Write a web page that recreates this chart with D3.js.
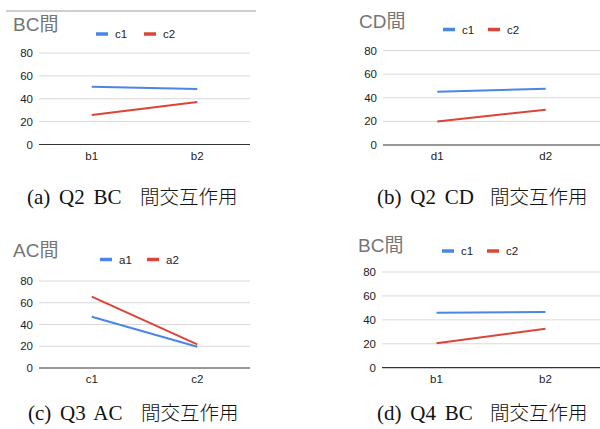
<!DOCTYPE html>
<html>
<head>
<meta charset="utf-8">
<script src="https://cdn.jsdelivr.net/npm/d3@7"></script>
<style>
  body { margin: 0; background: #fff; }
  svg { display: block; }
  .tick-label, .cat-label, .legend-text { font-family: "Liberation Sans", Arial, sans-serif; font-size: 11.5px; fill: #222; }
  .title { font-family: "Liberation Sans", "Noto Sans CJK JP", sans-serif; font-size: 19px; fill: #757575; }
  .caption { font-family: "Liberation Serif", serif; font-size: 21px; fill: #111; word-spacing: 3.5px; }
  .caption-cjk { font-family: "Noto Sans CJK JP", sans-serif; font-size: 19.5px; font-weight: 300; fill: #111; }
</style>
</head>
<body>
<div id="chart"></div>
<script>
// data
var yTicks = [0, 20, 40, 60, 80];

var titlesList = ["BC間", "CD間", "AC間", "BC間"];
var captionsList = ["(a) Q2 BC 間交互作用", "(b) Q2 CD 間交互作用", "(c) Q3 AC 間交互作用", "(d) Q4 BC 間交互作用"];

var catsA = ["b1", "b2"];
var seriesNamesA = ["c1", "c2"];
var valuesA = [[50.5, 48.5], [25.8, 37.2]];

var catsB = ["d1", "d2"];
var seriesNamesB = ["c1", "c2"];
var valuesB = [[45.1, 47.7], [19.8, 29.9]];

var catsC = ["c1", "c2"];
var seriesNamesC = ["a1", "a2"];
var valuesC = [[47.2, 19.6], [65.6, 21.8]];

var catsD = ["b1", "b2"];
var seriesNamesD = ["c1", "c2"];
var valuesD = [[46.0, 46.6], [20.4, 32.6]];

var colors = ["#4a86e8", "#db4437"];

// layout of each panel
var layouts = [
  { x0: 39, x1: 250, yTop: 53, yBot: 144.5, titleX: 13, titleY: 31, legY: 34, legX: [96, 144], capX: 27, capY: 204 },
  { x0: 383, x1: 600, yTop: 50.5, yBot: 145, titleX: 359, titleY: 28, legY: 29.5, legX: [443, 488], capX: 377, capY: 204 },
  { x0: 39, x1: 250, yTop: 281, yBot: 368, titleX: 13, titleY: 257, legY: 259.5, legX: [100, 147], capX: 28, capY: 420 },
  { x0: 382, x1: 600, yTop: 272, yBot: 367.7, titleX: 358, titleY: 252, legY: 251, legX: [442, 487], capX: 377, capY: 420 }
];

var panelData = [
  { cats: catsA, names: seriesNamesA, values: valuesA },
  { cats: catsB, names: seriesNamesB, values: valuesB },
  { cats: catsC, names: seriesNamesC, values: valuesC },
  { cats: catsD, names: seriesNamesD, values: valuesD }
];

var svg = d3.select("#chart")
  .append("svg")
  .attr("width", 600)
  .attr("height", 429);

// thin gray line at top of first panel
svg.append("line")
  .attr("x1", 6).attr("x2", 256)
  .attr("y1", 11).attr("y2", 11)
  .attr("stroke", "#9e9e9e")
  .attr("stroke-width", 1);

panelData.forEach(function(p, i) {
  var L = layouts[i];
  var g = svg.append("g");

  var x = d3.scalePoint()
    .domain(p.cats)
    .range([L.x0, L.x1])
    .padding(0.5);

  var y = d3.scaleLinear()
    .domain([0, 80])
    .range([L.yBot, L.yTop]);

  // gridlines
  g.selectAll(".grid").data(yTicks).enter()
    .append("line")
    .attr("x1", L.x0).attr("x2", L.x1)
    .attr("y1", d => y(d)).attr("y2", d => y(d))
    .attr("stroke", d => d === 0 ? "#333" : "#d9d9d9")
    .attr("stroke-width", d => d === 0 ? 1.2 : 1);

  // y tick labels
  g.selectAll(".tick-label").data(yTicks).enter()
    .append("text")
    .attr("class", "tick-label")
    .attr("x", L.x0 - 6)
    .attr("y", d => y(d))
    .attr("dy", "0.35em")
    .attr("text-anchor", "end")
    .text(d => d);

  // category labels
  g.selectAll(".cat-label").data(p.cats).enter()
    .append("text")
    .attr("class", "cat-label")
    .attr("x", d => x(d))
    .attr("y", L.yBot + 15)
    .attr("text-anchor", "middle")
    .text(d => d);

  // lines
  var line = d3.line()
    .x((d, j) => x(p.cats[j]))
    .y(d => y(d));

  g.selectAll(".series").data(p.values).enter()
    .append("path")
    .attr("d", d => line(d))
    .attr("fill", "none")
    .attr("stroke", (d, j) => colors[j])
    .attr("stroke-width", 2);

  // title
  g.append("text")
    .attr("class", "title")
    .attr("x", L.titleX)
    .attr("y", L.titleY)
    .text(titlesList[i]);

  // legend
  p.names.forEach(function(name, j) {
    g.append("line")
      .attr("x1", L.legX[j]).attr("x2", L.legX[j] + 12)
      .attr("y1", L.legY).attr("y2", L.legY)
      .attr("stroke", colors[j])
      .attr("stroke-width", 3.5);
    g.append("text")
      .attr("class", "legend-text")
      .attr("x", L.legX[j] + 19)
      .attr("y", L.legY)
      .attr("dy", "0.35em")
      .text(name);
  });

  // caption: latin part and japanese part
  var cap = captionsList[i];
  var k = cap.search(/[\u3000-\u9fff]/);
  g.append("text")
    .attr("class", "caption")
    .attr("x", L.capX)
    .attr("y", L.capY)
    .text(cap.slice(0, k).trim());
  g.append("text")
    .attr("class", "caption-cjk")
    .attr("x", L.capX + 113)
    .attr("y", L.capY)
    .text(cap.slice(k));
});
</script>
</body>
</html>
